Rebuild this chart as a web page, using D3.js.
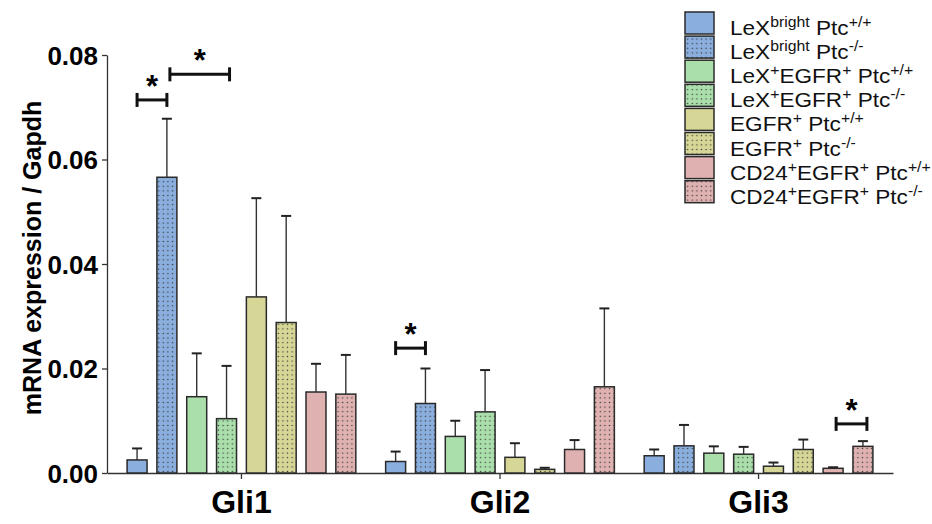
<!DOCTYPE html>
<html>
<head>
  <meta charset="utf-8">
  <style type="text/css">
    body { margin: 0; background: #fff; }
    svg text { font-family: "Liberation Sans", Arial, Helvetica, sans-serif; }
  </style>
  <script src="https://d3js.org/d3.v7.min.js"></script>
</head>
<body>
  <div id="chart"></div>
  <script type="text/javascript">
    // data
    var genes = ["Gli1", "Gli2", "Gli3"];
    var series = ["LeXb_wt", "LeXb_ko", "LeXEGFR_wt", "LeXEGFR_ko", "EGFR_wt", "EGFR_ko", "CD24EGFR_wt", "CD24EGFR_ko"];
    // legend labels, split into [text, superscript] parts
    var seriesLabels = [
      [["LeX", 0], ["bright", 1], [" Ptc", 0], ["+/+", 1]],
      [["LeX", 0], ["bright", 1], [" Ptc", 0], ["-/-", 1]],
      [["LeX", 0], ["+", 1], ["EGFR", 0], ["+", 1], [" Ptc", 0], ["+/+", 1]],
      [["LeX", 0], ["+", 1], ["EGFR", 0], ["+", 1], [" Ptc", 0], ["-/-", 1]],
      [["EGFR", 0], ["+", 1], [" Ptc", 0], ["+/+", 1]],
      [["EGFR", 0], ["+", 1], [" Ptc", 0], ["-/-", 1]],
      [["CD24", 0], ["+", 1], ["EGFR", 0], ["+", 1], [" Ptc", 0], ["+/+", 1]],
      [["CD24", 0], ["+", 1], ["EGFR", 0], ["+", 1], [" Ptc", 0], ["-/-", 1]]
    ];
    var means = {
      Gli1: [0.0025, 0.0566, 0.0146, 0.0104, 0.0337, 0.0288, 0.0155, 0.0151],
      Gli2: [0.0022, 0.0133, 0.0070, 0.0117, 0.0030, 0.0007, 0.0045, 0.0165],
      Gli3: [0.0033, 0.0052, 0.0038, 0.0036, 0.0013, 0.0045, 0.0009, 0.0051]
    };
    var errTops = {
      Gli1: [0.0047, 0.0678, 0.0229, 0.0205, 0.0526, 0.0492, 0.0209, 0.0226],
      Gli2: [0.0041, 0.0200, 0.0100, 0.0197, 0.0057, 0.0010, 0.0063, 0.0315],
      Gli3: [0.0045, 0.0092, 0.0051, 0.0050, 0.0020, 0.0064, 0.0011, 0.0061]
    };
    var yTicks = [0, 0.02, 0.04, 0.06, 0.08];
    // significance brackets: gene, from series, to series, height
    var sigGene = ["Gli1", "Gli1", "Gli2", "Gli3"];
    var sigFrom = [0, 1, 0, 6];
    var sigTo = [1, 3, 1, 7];
    var sigLevel = [0.0714, 0.0763, 0.0239, 0.0094];

    var fills = ["#8aaedd", "#8aaedd", "#aadfab", "#aadfab", "#d6d696", "#d6d696", "#dfb1b1", "#dfb1b1"];
    var dotted = [false, true, false, true, false, true, false, true];

    var W = 932, H = 524;
    var svg = d3.select("#chart").append("svg")
        .attr("width", W).attr("height", H);
    svg.append("rect").attr("width", W).attr("height", H).attr("fill", "#fff");

    var defs = svg.append("defs");
    fills.forEach(function(c, i) {
      if (!dotted[i]) return;
      var p = defs.append("pattern")
          .attr("id", "dots" + i)
          .attr("patternUnits", "userSpaceOnUse")
          .attr("width", 4.6).attr("height", 4.6);
      p.append("rect").attr("width", 4.6).attr("height", 4.6).attr("fill", c);
      p.append("circle").attr("cx", 2.3).attr("cy", 2.3).attr("r", 0.75).attr("fill", "#3a3a3a");
    });

    var x0 = d3.scaleBand().domain(genes).range([107, 893]).paddingOuter(0.02);
    var x1 = d3.scaleBand().domain(series).range([0, x0.bandwidth()])
        .paddingInner(0.33).paddingOuter(0.5);
    var y = d3.scaleLinear().domain([0, 0.08]).range([473, 55]);

    // axes
    var yAxis = svg.append("g")
        .attr("transform", "translate(107,0)")
        .call(d3.axisLeft(y).tickValues(yTicks).tickFormat(d3.format(".2f"))
          .tickSize(5).tickSizeOuter(0).tickPadding(4));
    yAxis.selectAll("path, line").attr("stroke", "#333").attr("stroke-width", 1.3);
    yAxis.selectAll("text")
        .style("font-size", "26px").style("font-weight", "bold").attr("fill", "#000")
        .attr("dy", "0.36em");

    var xAxis = svg.append("g")
        .attr("transform", "translate(0,473)")
        .call(d3.axisBottom(x0).tickSize(6).tickSizeOuter(0).tickFormat(""));
    xAxis.selectAll("path, line").attr("stroke", "#333").attr("stroke-width", 1.3);

    svg.selectAll(".glabel").data(genes).enter().append("text")
        .attr("class", "glabel")
        .attr("x", function(d) { return x0(d) + x0.bandwidth() / 2; })
        .attr("y", 513)
        .attr("text-anchor", "middle")
        .style("font-size", "32px").style("font-weight", "bold")
        .text(function(d) { return d; });

    svg.append("text")
        .attr("transform", "translate(41,258) rotate(-90)")
        .attr("text-anchor", "middle")
        .style("font-size", "25px").style("font-weight", "bold")
        .text("mRNA expression / Gapdh");

    // bars
    var rows = [];
    genes.forEach(function(g) {
      series.forEach(function(s, i) {
        rows.push({ gene: g, s: s, i: i, v: means[g][i], e: errTops[g][i] });
      });
    });

    function cx(d) { return x0(d.gene) + x1(d.s) + x1.bandwidth() / 2; }

    var bar = svg.append("g").selectAll("g").data(rows).enter().append("g");

    bar.append("line")
        .attr("x1", cx).attr("x2", cx)
        .attr("y1", function(d) { return y(d.v); })
        .attr("y2", function(d) { return y(d.e); })
        .attr("stroke", "#333").attr("stroke-width", 1.4);
    bar.append("line")
        .attr("x1", function(d) { return cx(d) - 5; })
        .attr("x2", function(d) { return cx(d) + 5; })
        .attr("y1", function(d) { return y(d.e); })
        .attr("y2", function(d) { return y(d.e); })
        .attr("stroke", "#222").attr("stroke-width", 2);

    bar.append("rect")
        .attr("x", function(d) { return x0(d.gene) + x1(d.s); })
        .attr("width", x1.bandwidth())
        .attr("y", function(d) { return y(d.v); })
        .attr("height", function(d) { return y(0) - y(d.v); })
        .attr("fill", function(d) { return dotted[d.i] ? "url(#dots" + d.i + ")" : fills[d.i]; })
        .attr("stroke", "#2a2a2a").attr("stroke-width", 1.5);

    // significance brackets
    var sig = svg.append("g");
    sigGene.forEach(function(g, k) {
      var xa = x0(g) + x1(series[sigFrom[k]]) + x1.bandwidth() / 2 + (k === 1 ? 3 : 0) + (k === 3 ? 3 : 0);
      var xb = x0(g) + x1(series[sigTo[k]]) + x1.bandwidth() / 2 + (k === 1 ? 3 : 0) + (k === 3 ? 4 : 0);
      var yy = y(sigLevel[k]);
      sig.append("line").attr("x1", xa).attr("x2", xb).attr("y1", yy).attr("y2", yy)
          .attr("stroke", "#111").attr("stroke-width", 3);
      [xa, xb].forEach(function(xx) {
        sig.append("line").attr("x1", xx).attr("x2", xx).attr("y1", yy - 7).attr("y2", yy + 7)
            .attr("stroke", "#111").attr("stroke-width", 3);
      });
      sig.append("text")
          .attr("x", (xa + xb) / 2).attr("y", yy - 3)
          .attr("text-anchor", "middle")
          .style("font-size", "31px").style("font-weight", "bold")
          .text("*");
    });

    // legend
    var legend = svg.append("g");
    seriesLabels.forEach(function(parts, i) {
      var cy = 23 + i * 24.1;
      legend.append("rect")
          .attr("x", 685).attr("y", cy - 11).attr("width", 29).attr("height", 22)
          .attr("fill", dotted[i] ? "url(#dots" + i + ")" : fills[i])
          .attr("stroke", "#2a2a2a").attr("stroke-width", 1.5);
      var t = legend.append("text")
          .attr("transform", "translate(730," + (cy + 12) + ") scale(1.13,1)")
          .style("font-size", "20px").attr("fill", "#111");
      var up = false;
      parts.forEach(function(p) {
        var ts = t.append("tspan").text(p[0]);
        if (p[1] && !up) { ts.attr("dy", -8).style("font-size", "14px"); up = true; }
        else if (p[1]) { ts.style("font-size", "14px"); }
        else if (up) { ts.attr("dy", 8); up = false; }
      });
    });
  </script>
</body>
</html>
